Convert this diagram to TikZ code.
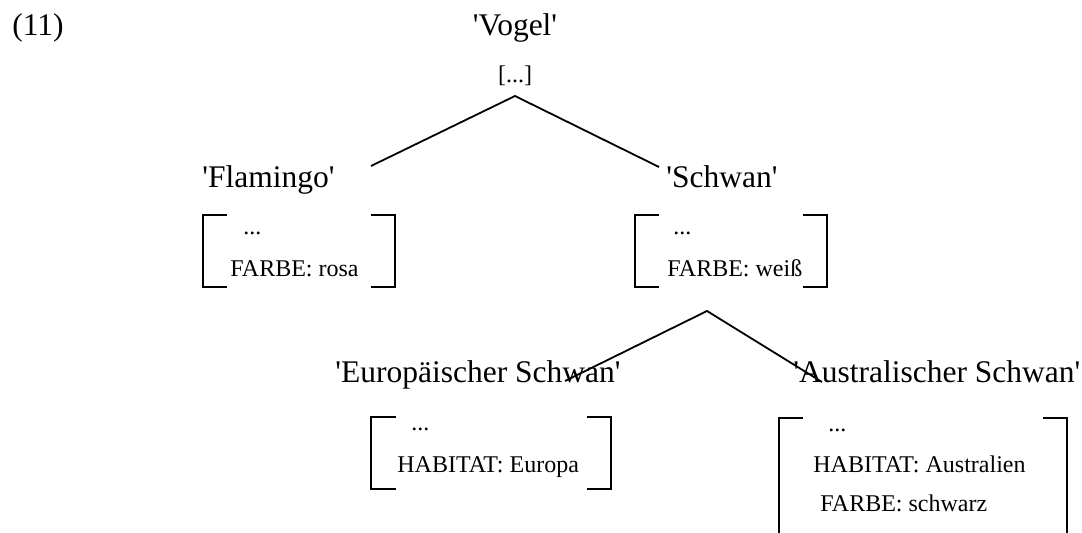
\documentclass[tikz,border=0pt]{standalone}
\usepackage{fontspec}
\setmainfont{Liberation Serif}
\newcommand{\gloss}[1]{\textquotesingle#1\textquotesingle}

\begin{document}
\begin{tikzpicture}[x=0.5pt,y=-0.5pt,
  big/.style={inner sep=0pt,font=\fontsize{15.75}{18}\selectfont},
  small/.style={inner sep=0pt,font=\fontsize{12}{14}\selectfont},
  edge/.style={line width=0.9pt},
  bracket/.style={line width=1pt}]
  \useasboundingbox (0,0) rectangle (1082,533);

  \node (num) [big,anchor=base west] at (12,36) {(11)};

  % top node
  \node (vogel) [big,anchor=base] at (515,36) {\gloss{Vogel}};
  \node (vogelfs) [small,anchor=base] at (515,83) {[...]};

  \coordinate (vogeltop) at (515,96);
  \coordinate (flamingoend) at (371,166);
  \coordinate (schwanend) at (659,167);
  \draw [edge] (flamingoend) -- (vogeltop) -- (schwanend);

  % Flamingo
  \node (flamingo) [big,anchor=base west] at (202,188) {\gloss{Flamingo}};
  \draw [bracket] (227,215) -- (203,215) -- (203,287) -- (227,287);
  \draw [bracket] (371,215) -- (395,215) -- (395,287) -- (371,287);
  \node (flamingodots) [small,anchor=base west] at (243,235) {...};
  \node (flamingofarbe) [small,anchor=base west] at (230,277) {FARBE: rosa};

  % Schwan
  \node (schwan) [big,anchor=base west] at (666,188) {\gloss{Schwan}};
  \draw [bracket] (659,215) -- (635,215) -- (635,287) -- (659,287);
  \draw [bracket] (803,215) -- (827,215) -- (827,287) -- (803,287);
  \node (schwandots) [small,anchor=base west] at (673,235) {...};
  \node (schwanfarbe) [small,anchor=base west] at (667,277) {FARBE: weiß};

  \coordinate (schwantop) at (707,311);
  \coordinate (europaend) at (565,381);
  \coordinate (australend) at (822,382);
  \draw [edge] (europaend) -- (schwantop) -- (australend);

  % Europaeischer Schwan
  \node (europa) [big,anchor=base west] at (335,383) {\gloss{Europäischer Schwan}};
  \draw [bracket] (396,417) -- (371,417) -- (371,489) -- (396,489);
  \draw [bracket] (587,417) -- (611,417) -- (611,489) -- (587,489);
  \node (europadots) [small,anchor=base west] at (411,431) {...};
  \node (europahabitat) [small,anchor=base west] at (397,473) {HABITAT: Europa};

  % Australischer Schwan
  \node (austral) [big,anchor=base west] at (793,383) {\gloss{Australischer Schwan}};
  \draw [bracket] (803,418) -- (779,418) -- (779,540);
  \draw [bracket] (1043,418) -- (1067,418) -- (1067,540);
  \node (australdots) [small,anchor=base west] at (828,432) {...};
  \node (australhabitat) [small,anchor=base west] at (813,473) {HABITAT: Australien};
  \node (australfarbe) [small,anchor=base west] at (820,512) {FARBE: schwarz};
\end{tikzpicture}
\end{document}
